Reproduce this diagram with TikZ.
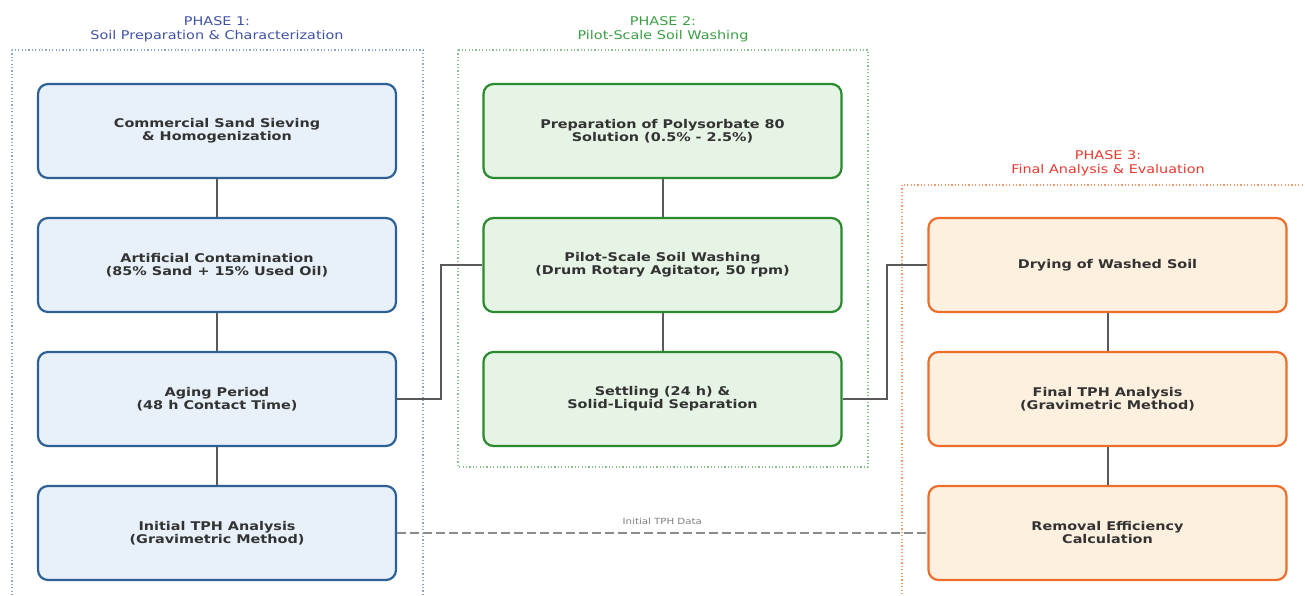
\documentclass[tikz,border=0pt]{standalone}
\usepackage{fontspec}
\setmainfont{DejaVu Sans}[FakeStretch=1.2]
\definecolor{azulborde}{HTML}{2E6193}
\definecolor{azulfondo}{HTML}{E8F1FA}
\definecolor{verdeborde}{HTML}{2A8A2E}
\definecolor{verdefondo}{HTML}{E6F4E6}
\definecolor{naranjaborde}{HTML}{EB6E2C}
\definecolor{naranjafondo}{HTML}{FDF0DE}
\definecolor{titulo1}{HTML}{3F51A5}
\definecolor{titulo2}{HTML}{3A9E42}
\definecolor{titulo3}{HTML}{E8392F}
\begin{document}
\begin{tikzpicture}[x=1pt, y=-1pt,
		caja/.style={draw, rounded corners=10pt, line width=2.2pt, minimum width=358pt, minimum height=94pt, align=center, text=black!80, font=\bfseries\fontsize{12}{13}\selectfont},
		caja1/.style={caja, draw=azulborde, fill=azulfondo},
		caja2/.style={caja, draw=verdeborde, fill=verdefondo},
		caja3/.style={caja, draw=naranjaborde, fill=naranjafondo},
		linea/.style={draw=black!65, line width=2pt},
		grupo/.style={line width=1.2pt, dash pattern=on 1.2pt off 2.2pt},
		titulo/.style={align=center, font=\fontsize{12}{14}\selectfont}]
	\useasboundingbox (0,0) rectangle (1305,596);
	\clip (0,0) rectangle (1305,596);
	
	% Grupos de cada fase
	\draw[grupo, draw=azulborde!55] (12,50) rectangle (423,610);
	\draw[grupo, draw=verdeborde!55] (458,50) rectangle (868,467);
	\draw[grupo, draw=naranjaborde!70] (902,185) rectangle (1320,610);
	\node[titulo, text=titulo1] (t1) at (217,29) {PHASE 1:\\Soil Preparation \& Characterization};
	\node[titulo, text=titulo2] (t2) at (663,29) {PHASE 2:\\Pilot-Scale Soil Washing};
	\node[titulo, text=titulo3] (t3) at (1108,163) {PHASE 3:\\Final Analysis \& Evaluation};
	
	% Fase 1
	\node[caja1] (sieving) at (217,131) {Commercial Sand Sieving\\\& Homogenization};
	\node[caja1] (contam) at (217,265) {Artificial Contamination\\(85\% Sand + 15\% Used Oil)};
	\node[caja1] (aging) at (217,399) {Aging Period\\(48 h Contact Time)};
	\node[caja1] (initial) at (217,533) {Initial TPH Analysis\\(Gravimetric Method)};
	
	% Fase 2
	\node[caja2] (prep) at (662.5,131) {Preparation of Polysorbate 80\\Solution (0.5\% - 2.5\%)};
	\node[caja2] (washing) at (662.5,265) {Pilot-Scale Soil Washing\\(Drum Rotary Agitator, 50 rpm)};
	\node[caja2] (settling) at (662.5,399) {Settling (24 h) \&\\Solid-Liquid Separation};
	
	% Fase 3
	\node[caja3] (drying) at (1107.5,265) {Drying of Washed Soil};
	\node[caja3] (final) at (1107.5,399) {Final TPH Analysis\\(Gravimetric Method)};
	\node[caja3] (removal) at (1107.5,533) {Removal Efficiency\\Calculation};
	
	% Conexiones
	\draw[linea] (sieving) -- (contam);
	\draw[linea] (contam) -- (aging);
	\draw[linea] (aging) -- (initial);
	\draw[linea] (prep) -- (washing);
	\draw[linea] (washing) -- (settling);
	\draw[linea] (drying) -- (final);
	\draw[linea] (final) -- (removal);
	\draw[linea] (aging.east) -- ++(44,0) |- (washing.west);
	\draw[linea] (settling.east) -- ++(44,0) |- (drying.west);
	\draw[draw=black!45, line width=1.6pt, dash pattern=on 9pt off 4pt] (initial.east) -- node[above=4pt, text=black!50, font=\fontsize{8.5}{9}\selectfont] (dato) {Initial TPH Data} (removal.west);
\end{tikzpicture}
\end{document}
